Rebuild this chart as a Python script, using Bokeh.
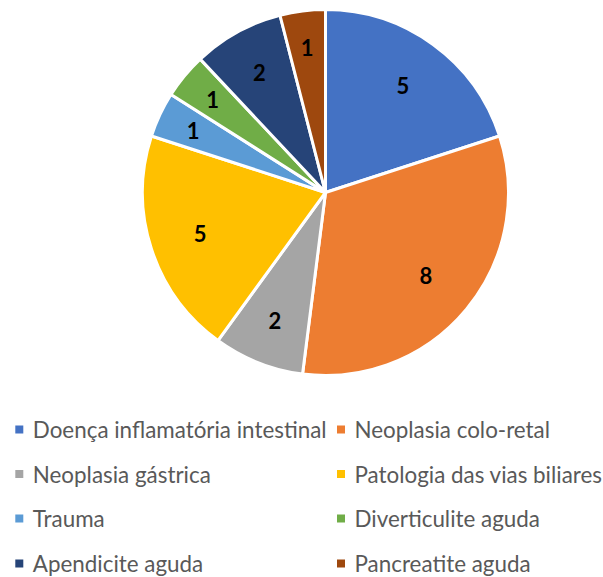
import math
from bokeh.plotting import figure
from bokeh.models import Range1d, ColumnDataSource
from bokeh.core.properties import value
from bokeh.embed import file_html
from bokeh.resources import INLINE

categories = ["Doença inflamatória intestinal", "Neoplasia colo-retal",
              "Neoplasia gástrica", "Patologia das vias biliares",
              "Trauma", "Diverticulite aguda",
              "Apendicite aguda", "Pancreatite aguda"]
counts = [5, 8, 2, 5, 1, 1, 2, 1]
colors = ["#4472C4", "#ED7D31", "#A5A5A5", "#FFC000",
          "#5B9BD5", "#70AD47", "#264478", "#9E480E"]

W, H = 603, 577
CX, CY, R = 325, 385, 183

total = sum(counts)
starts, ends, lx, ly = [], [], [], []
cum = 0
for c in counts:
    a0 = math.pi / 2 - 2 * math.pi * cum / total
    a1 = math.pi / 2 - 2 * math.pi * (cum + c) / total
    starts.append(a0)
    ends.append(a1)
    mid = (a0 + a1) / 2
    frac = 0.70 + 0.1 / c   # thin slices get their label further out
    lx.append(CX + frac * R * math.cos(mid))
    ly.append(CY + frac * R * math.sin(mid))
    cum += c

p = figure(width=W, height=H, x_range=Range1d(0, W), y_range=Range1d(0, H),
           output_backend="svg", toolbar_location=None, min_border=0)
p.axis.visible = False
p.grid.visible = False
p.outline_line_color = None
p.background_fill_color = "white"
p.border_fill_color = "white"

src = ColumnDataSource(dict(start=starts, end=ends, color=colors,
                            lx=lx, ly=ly, txt=[str(c) for c in counts]))
p.wedge(x=CX, y=CY, radius=R, start_angle="start", end_angle="end",
        direction="clock", fill_color="color", line_color="white",
        line_width=3, source=src)
p.text(x="lx", y="ly", text="txt", source=src, text_align="center",
       text_baseline="middle", text_font=value("Lato"), text_font_style="bold",
       text_font_size="22px", text_color="black")

# legend (two columns, row-major)
col_x = [18.8, 340.5]
row_y = [148, 103.5, 59, 14]
mx, my, tx = [], [], []
for i in range(len(categories)):
    r, c = divmod(i, 2)
    mx.append(col_x[c])
    my.append(row_y[r])
    tx.append(col_x[c] + 13.5)
lsrc = ColumnDataSource(dict(mx=mx, my=my, tx=tx, name=categories, color=colors))
p.scatter(x="mx", y="my", marker="square", size=8, fill_color="color",
          line_color=None, source=lsrc)
p.text(x="tx", y="my", text="name", source=lsrc, text_align="left",
       text_baseline="middle", text_font=value("Lato"), text_font_size="22.4px",
       text_color="#595959")

open("out.html", "w").write(file_html(p, INLINE))
